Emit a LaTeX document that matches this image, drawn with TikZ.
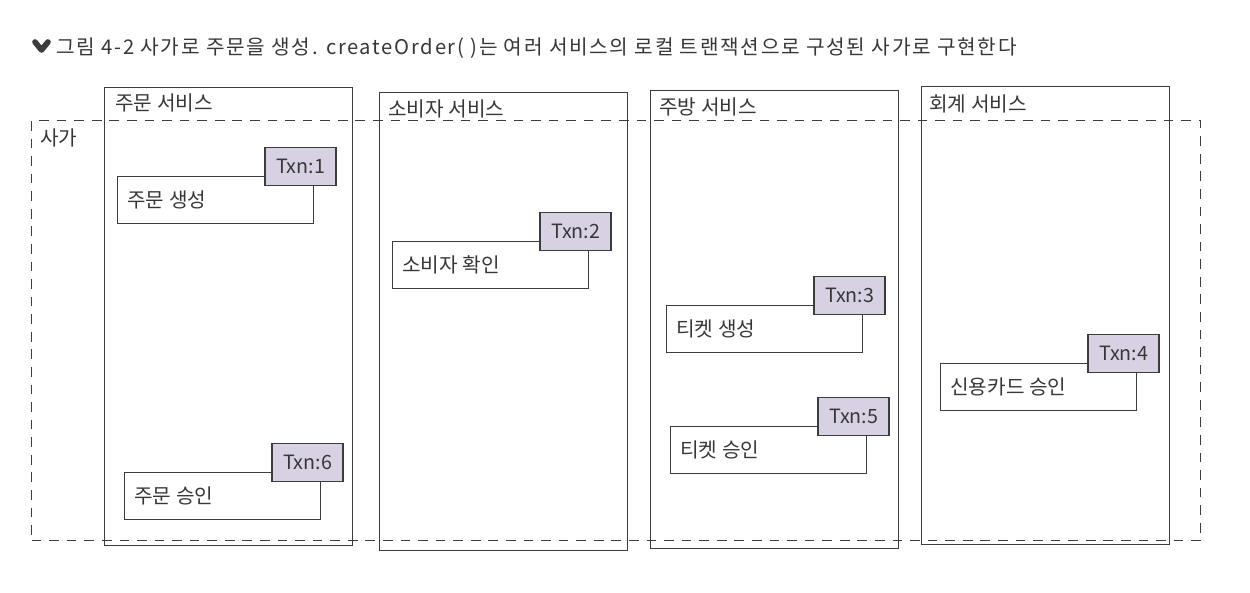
\documentclass[tikz,border=0pt]{standalone}
\usepackage{fontspec}
\setmainfont{Noto Sans CJK KR}
\definecolor{linec}{RGB}{60,60,60}
\definecolor{textc}{RGB}{55,55,55}
\definecolor{tabfill}{RGB}{216,209,228}
\newcommand\mkstep[5]{%
  \node[stepbox] (#1) at (#2,#3) {};
  \node[steptext] (#1t) at ([xshift=10*0.02cm]#1.west) {#4};
  \node[tabbox] (#1x) at ([xshift=-50*0.02cm,yshift=29*0.02cm]#1.north east) {#5};
}
\begin{document}
\begin{tikzpicture}[x=0.02cm,y=-0.02cm,
  lbl/.style={font=\fontsize{11.5pt}{13pt}\selectfont, text=textc, inner sep=0pt, anchor=west},
  svc/.style={draw=linec, line width=0.75pt, anchor=north west, inner sep=0pt, minimum width=248*0.02cm, minimum height=458*0.02cm},
  saga/.style={draw=linec, line width=0.75pt, dash pattern=on 5.5pt off 4.5pt, anchor=north west, inner sep=0pt, minimum width=1169*0.02cm, minimum height=420*0.02cm},
  stepbox/.style={draw=linec, line width=0.8pt, fill=white, anchor=north west, inner sep=0pt, minimum width=196*0.02cm, minimum height=47*0.02cm},
  steptext/.style={lbl},
  tabbox/.style={draw=linec, line width=0.8pt, fill=tabfill, anchor=north west, inner sep=0pt, minimum width=71*0.02cm, minimum height=38*0.02cm, font=\fontsize{11.2pt}{13pt}\selectfont, text=textc},
  capt/.style={font=\fontsize{11.5pt}{13pt}\selectfont\addfontfeature{LetterSpace=8.5}, text=textc, inner sep=0pt, anchor=west}]
\useasboundingbox[fill=white] (0,0) rectangle (1250,592);

% caption
\draw[linec, line width=3.2pt, line cap=round, line join=round] (35,42) -- (41.5,50) -- (48,42);
\node[capt] (cap) at (56,48) {그림 4-2 사가로 주문을 생성. createOrder( )는 여러 서비스의 로컬 트랜잭션으로 구성된 사가로 구현한다};

% saga
\node[saga] (sagabox) at (31,120) {};
\node[lbl] (sagalbl) at (40,138) {사가};

% services
\node[svc] (s1) at (104,87) {};
\node[svc] (s2) at (379,92) {};
\node[svc] (s3) at (650,90) {};
\node[svc] (s4) at (921,86) {};
\node[lbl] (s1l) at ([xshift=11*0.02cm,yshift=-16*0.02cm]s1.north west) {주문 서비스};
\node[lbl] (s2l) at ([xshift=9*0.02cm,yshift=-17*0.02cm]s2.north west) {소비자 서비스};
\node[lbl] (s3l) at ([xshift=9*0.02cm,yshift=-17*0.02cm]s3.north west) {주방 서비스};
\node[lbl] (s4l) at ([xshift=8*0.02cm,yshift=-18*0.02cm]s4.north west) {회계 서비스};

% steps
\mkstep{t1}{117}{176}{주문 생성}{Txn:1}
\mkstep{t2}{392}{241}{소비자 확인}{Txn:2}
\mkstep{t3}{666}{305}{티켓 생성}{Txn:3}
\mkstep{t5}{670}{426}{티켓 승인}{Txn:5}
\mkstep{t4}{940}{363}{신용카드 승인}{Txn:4}
\mkstep{t6}{124}{472}{주문 승인}{Txn:6}
\end{tikzpicture}
\end{document}
